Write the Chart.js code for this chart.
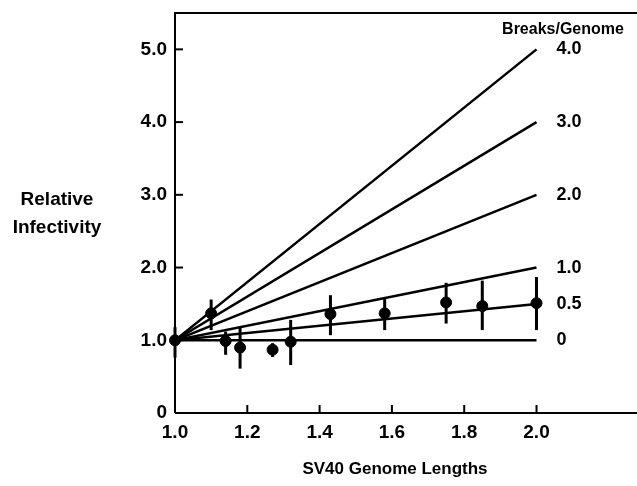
<!DOCTYPE html>
<html>
<head>
<meta charset="utf-8">
<script src="https://cdn.jsdelivr.net/npm/chart.js@4.4.0/dist/chart.umd.min.js"></script>
<style>
  html, body { margin: 0; padding: 0; background: #fff; }
  #wrap { width: 637px; height: 486px; }
</style>
</head>
<body>
<div id="wrap"><canvas id="chart" width="637" height="486"></canvas></div>
<script>
const genomeLengths = [1.0, 1.10, 1.14, 1.18, 1.27, 1.32, 1.43, 1.58, 1.75, 1.85, 2.0];
const infectivity  = [1.0, 1.37, 0.99, 0.90, 0.87, 0.98, 1.36, 1.37, 1.52, 1.47, 1.51];
const errLow       = [0.76, 1.14, 0.80, 0.61, 0.77, 0.66, 1.07, 1.14, 1.23, 1.14, 1.14];
const errHigh      = [1.18, 1.56, 1.12, 1.17, 0.96, 1.28, 1.62, 1.57, 1.79, 1.82, 1.87];
const breaks = [4.0, 3.0, 2.0, 1.0, 0.5, 0];
const breakLabels = ['4.0', '3.0', '2.0', '1.0', '0.5', '0'];
const xTicks = [1.0, 1.2, 1.4, 1.6, 1.8, 2.0];
const yTicks = [0, 1, 2, 3, 4, 5];

const FONT = '"Liberation Sans", Arial, sans-serif';

const lineSets = breaks.map((b, i) => ({
  type: 'line',
  label: breakLabels[i],
  data: [{x: 1.0, y: 1.0}, {x: 2.0, y: 1.0 + b}],
  borderColor: '#000',
  borderWidth: 2.5,
  pointRadius: 0,
  fill: false
}));

const frame = {
  id: 'frame',
  afterDraw(chart) {
    const c = chart.ctx, a = chart.chartArea;
    const xs = chart.scales.x, ys = chart.scales.y;
    const w = chart.width;
    c.save();
    c.strokeStyle = '#000';
    c.lineWidth = 2;
    c.beginPath();
    c.moveTo(a.left, a.bottom);
    c.lineTo(a.left, a.top);
    c.lineTo(w, a.top);
    c.moveTo(a.left, a.bottom);
    c.lineTo(w, a.bottom);
    c.stroke();
    // inward ticks
    xTicks.forEach(v => {
      if (v === 1.0) return;
      const px = xs.getPixelForValue(v);
      c.beginPath(); c.moveTo(px, a.bottom); c.lineTo(px, a.bottom - 8); c.stroke();
    });
    yTicks.forEach(v => {
      if (v === 0) return;
      const py = ys.getPixelForValue(v);
      c.beginPath(); c.moveTo(a.left, py); c.lineTo(a.left + 8, py); c.stroke();
    });
    // error bars
    c.lineWidth = 3;
    genomeLengths.forEach((g, i) => {
      const px = xs.getPixelForValue(g);
      c.beginPath();
      c.moveTo(px, ys.getPixelForValue(errLow[i]));
      c.lineTo(px, ys.getPixelForValue(errHigh[i]));
      c.stroke();
    });
    // labels
    c.fillStyle = '#000';
    c.font = 'bold 16px ' + FONT;
    c.textAlign = 'center';
    c.textBaseline = 'middle';
    c.fillText('Breaks/Genome', 563, 30);
    c.font = 'bold 18px ' + FONT;
    c.textAlign = 'left';
    breaks.forEach((b, i) => {
      c.fillText(breakLabels[i], xs.getPixelForValue(2.0) + 20, ys.getPixelForValue(1.0 + b));
    });
    c.font = 'bold 19px ' + FONT;
    c.textAlign = 'center';
    c.fillText('Relative', 57, 200);
    c.fillText('Infectivity', 57, 228);
    c.font = 'bold 17px ' + FONT;
    c.fillText('SV40 Genome Lengths', 395, 469);
    c.restore();
  }
};

new Chart(document.getElementById('chart'), {
  data: {
    datasets: [
      ...lineSets,
      {
        type: 'scatter',
        label: 'data',
        data: genomeLengths.map((g, i) => ({x: g, y: infectivity[i]})),
        backgroundColor: '#000',
        borderColor: '#000',
        pointRadius: 5.5,
        clip: false
      }
    ]
  },
  options: {
    responsive: false,
    animation: false,
    layout: { padding: { top: 13, right: 0, left: 0, bottom: 0 } },
    plugins: { legend: { display: false }, tooltip: { enabled: false } },
    scales: {
      x: {
        type: 'linear',
        min: 1.0,
        max: 2.26,
        afterBuildTicks: s => { s.ticks = xTicks.map(v => ({value: v})); },
        afterFit: s => { s.height = 73; },
        grid: { display: false, drawTicks: false },
        border: { display: false },
        ticks: {
          color: '#000',
          padding: 8,
          font: { family: FONT, size: 19, weight: 'bold' },
          callback: v => v.toFixed(1)
        }
      },
      y: {
        type: 'linear',
        min: 0,
        max: 5.5,
        afterBuildTicks: s => { s.ticks = yTicks.map(v => ({value: v})); },
        afterFit: s => { s.width = 175; s.paddingTop = 0; s.paddingBottom = 0; },
        grid: { display: false, drawTicks: false },
        border: { display: false },
        ticks: {
          color: '#000',
          padding: 8,
          font: { family: FONT, size: 19, weight: 'bold', lineHeight: 0.6 },
          callback: v => v === 0 ? '0' : v.toFixed(1)
        }
      }
    }
  },
  plugins: [frame]
});
</script>
</body>
</html>
